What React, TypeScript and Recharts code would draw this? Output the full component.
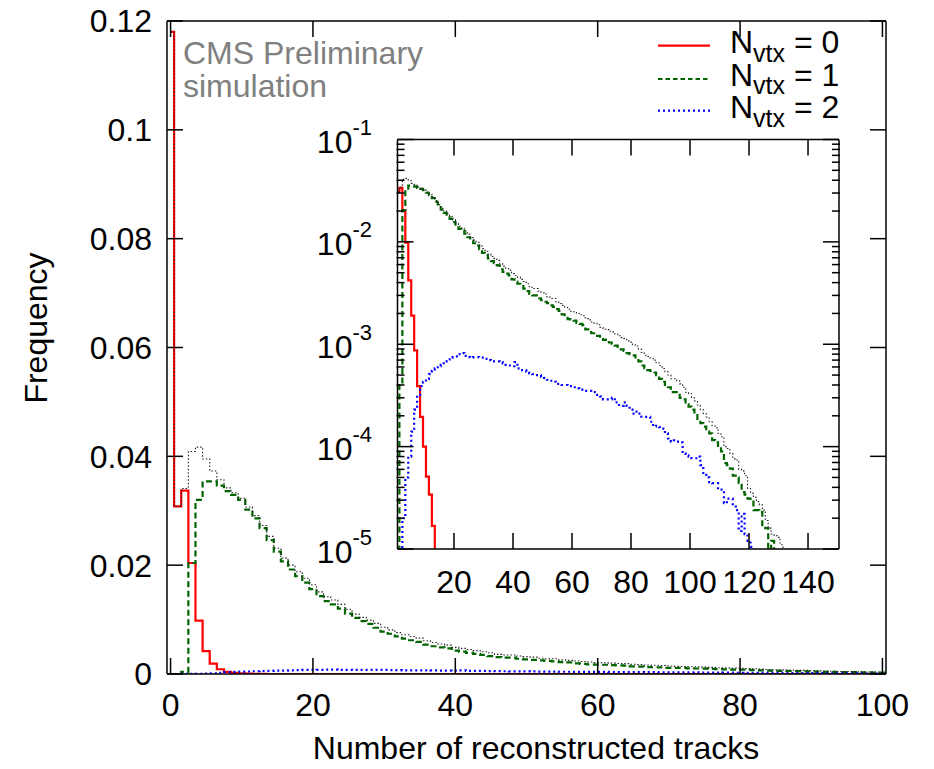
import { Line, LineChart, XAxis, YAxis } from "recharts";

/* Track-multiplicity histograms per number of reconstructed vertices, with a
   log-scale inset of the same distributions. Bins are centred on integers. */

const FONT = "'Liberation Sans', Arial, Helvetica, sans-serif";

const BINS = Array.from({ length: 151 }, (_, i) => i); // tracks 0..150

// N_vtx = 0
const N0 = [0.118, 0.0308, 0.0337, 0.0204, 0.0098, 0.0042, 0.0019, 0.00087, 0.00039, 0.000195, 0.0001, 0.000051, 0.000034, 0.0000168];

// N_vtx = 1
const N1 = [
  0, 0, 0.0004, 0.0204, 0.032, 0.0354, 0.0354, 0.0346, 0.0336, 0.0329,
  0.032, 0.0302, 0.0286, 0.0268, 0.0246, 0.0225, 0.0207, 0.0192, 0.018, 0.0168,
  0.0156, 0.0143, 0.0134, 0.0128, 0.012, 0.0111, 0.0103, 0.0097, 0.0092, 0.0085,
  0.0078, 0.0074, 0.0069, 0.0065, 0.0062, 0.0059, 0.0054, 0.0051, 0.0049, 0.0047,
  0.0043, 0.0041, 0.0039, 0.0037, 0.0035, 0.0033, 0.0031, 0.003, 0.003, 0.0028,
  0.0027, 0.0026, 0.00252, 0.0024, 0.00232, 0.0022, 0.00212, 0.00196, 0.00186, 0.00176,
  0.00174, 0.0017, 0.00162, 0.00158, 0.00154, 0.0014, 0.00136, 0.00128, 0.00124, 0.00121,
  0.00112, 0.0011, 0.00111, 0.00104, 0.00101, 0.00097, 0.00094, 0.00089, 0.00086, 0.00082,
  0.0008, 0.00078, 0.00072, 0.00068, 0.00062, 0.00058, 0.00056, 0.00055, 0.00053, 0.0005,
  0.00046, 0.00043, 0.0004, 0.00038, 0.00034, 0.00034, 0.00033, 0.0003, 0.00029, 0.00026,
  0.000246, 0.00023, 0.00021, 0.000175, 0.00017, 0.000157, 0.00014, 0.000135, 0.000116, 0.00011,
  0.000096, 0.00009, 0.000069, 0.000066, 0.000061, 0.000052, 0.00005, 0.000044, 0.000036, 0.000034,
  0.000031, 0.00003, 0.000024, 0.000024, 0.000023, 0.0000166, 0.000016, 0, 0.000012, 0,
];

// N_vtx = 2
const N2 = [
  0, 0, 0.000008, 0.00002, 0.00005, 0.00008, 0.00014, 0.00023, 0.00032, 0.00039,
  0.00043, 0.00046, 0.00051, 0.00055, 0.00058, 0.00061, 0.00063, 0.00068, 0.00071, 0.00074,
  0.00075, 0.00076, 0.0008, 0.00082, 0.00077, 0.00075, 0.00074, 0.00075, 0.00075, 0.00074,
  0.00074, 0.00072, 0.0007, 0.00068, 0.00068, 0.00068, 0.00067, 0.00065, 0.00063, 0.00062,
  0.00061, 0.00067, 0.00058, 0.00056, 0.00056, 0.00054, 0.00052, 0.00051, 0.0005, 0.0005,
  0.00048, 0.00047, 0.00045, 0.00044, 0.00043, 0.00041, 0.00041, 0.0004, 0.0004, 0.00039,
  0.00039, 0.00038, 0.00037, 0.00036, 0.00035, 0.00035, 0.00035, 0.00034, 0.00034, 0.00032,
  0.00031, 0.00029, 0.00029, 0.00029, 0.0003, 0.00027, 0.000255, 0.00025, 0.00027, 0.00025,
  0.00023, 0.00021, 0.00022, 0.00021, 0.000196, 0.000195, 0.000195, 0.000175, 0.000158, 0.00016,
  0.000155, 0.00015, 0.000135, 0.00012, 0.000112, 0.000115, 0.000112, 0.00011, 0.000086, 0.000082,
  0.00008, 0.000077, 0.000077, 0.00008, 0.000066, 0.000053, 0.00005, 0.000045, 0.000044, 0.000044,
  0.000038, 0.000038, 0.000028, 0.000031, 0.000031, 0.000026, 0.000024, 0.000015, 0.000022, 0.000014,
  0.000012, 0.0000105,
];

// all events (black dotted, not in the legend)
const ALL = [
  0.118, 0.0308, 0.0341, 0.0409, 0.0417, 0.0395, 0.0373, 0.0357, 0.0342, 0.0333,
  0.0323, 0.0307, 0.0291, 0.0273, 0.0253, 0.0231, 0.0213, 0.02, 0.0188, 0.0176,
  0.0164, 0.0151, 0.0142, 0.0136, 0.0128, 0.0119, 0.011, 0.0104, 0.0099, 0.0093,
  0.0086, 0.0081, 0.0076, 0.0072, 0.0069, 0.0066, 0.0061, 0.0058, 0.0055, 0.0053,
  0.0049, 0.0047, 0.0045, 0.0043, 0.0041, 0.0039, 0.0036, 0.0035, 0.0035, 0.0033,
  0.0032, 0.0031, 0.0029, 0.0028, 0.0028, 0.0026, 0.0025, 0.0024, 0.0023, 0.0022,
  0.0021, 0.00208, 0.002, 0.00194, 0.0019, 0.00178, 0.00173, 0.00165, 0.0016, 0.00155,
  0.00146, 0.0014, 0.00139, 0.00134, 0.00132, 0.00126, 0.00121, 0.00116, 0.00114, 0.00108,
  0.00105, 0.00099, 0.00096, 0.0009, 0.00083, 0.00078, 0.00076, 0.00073, 0.0007, 0.00066,
  0.00062, 0.00058, 0.00054, 0.0005, 0.00046, 0.00046, 0.00044, 0.00041, 0.00038, 0.00034,
  0.00033, 0.0003, 0.00028, 0.000255, 0.00023, 0.00021, 0.000195, 0.000175, 0.00016, 0.000153,
  0.000135, 0.000125, 0.0001, 0.000096, 0.000086, 0.000076, 0.000074, 0.00006, 0.000058, 0.000052,
  0.000039, 0.000035, 0.000032, 0.000029, 0.000027, 0.000024, 0.000019, 0.000016, 0.000014, 0.0000135,
  0.000013, 0.000011,
];

const X_TICKS = [0, 20, 40, 60, 80, 100];
const Y_TICKS = [0, 0.02, 0.04, 0.06, 0.08, 0.1, 0.12];
const INSET_X_TICKS = [20, 40, 60, 80, 100, 120, 140];
const INSET_Y_TICKS = [1e-5, 1e-4, 1e-3, 1e-2, 1e-1];
const INSET_MINOR = [1e-5, 1e-4, 1e-3, 1e-2].flatMap((d) => [2, 3, 4, 5, 6, 7, 8, 9].map((m) => m * d));

const LEGEND = ["0", "1", "2"];

const RED = "#ff0000";
const GREEN = "#006400";
const BLUE = "#0000ff";

const FLOOR = 1e-9; // empty bins drop off the bottom of the log inset

const mainRows = BINS.map((k) => ({ k, n0: N0[k] ?? 0, n1: N1[k] ?? 0, n2: N2[k] ?? 0, all: ALL[k] ?? 0 }));
const lv = (v?: number) => (v && v > 0 ? v : FLOOR);
const insetRows = BINS.filter((k) => k >= 1).map((k) => ({ k, n0: lv(N0[k]), n1: lv(N1[k]), n2: lv(N2[k]), all: lv(ALL[k]) }));

const axisStyle = { stroke: "#000", strokeWidth: 1.5 };
const blank = () => "";

function PowTick({ x, y, payload }: any) {
  const e = Math.round(Math.log10(payload.value));
  return (
    <text x={x} y={y + 13.5} textAnchor="end" fontSize={32} fill="#000" fontFamily={FONT}>
      10
      <tspan fontSize={22} dy={-18}>{e}</tspan>
    </text>
  );
}

function series(xId: string, yId: string) {
  return [
    <Line key="n0" xAxisId={xId} yAxisId={yId} type="step" dataKey="n0" stroke={RED} strokeWidth={2.2} dot={false} activeDot={false} isAnimationActive={false} />,
    <Line key="n1" xAxisId={xId} yAxisId={yId} type="step" dataKey="n1" stroke={GREEN} strokeWidth={2.2} strokeDasharray="6 3.5" dot={false} activeDot={false} isAnimationActive={false} />,
    <Line key="n2" xAxisId={xId} yAxisId={yId} type="step" dataKey="n2" stroke={BLUE} strokeWidth={2.2} strokeDasharray="2 3" dot={false} activeDot={false} isAnimationActive={false} />,
    <Line key="all" xAxisId={xId} yAxisId={yId} type="step" dataKey="all" stroke="#222" strokeWidth={1.1} strokeDasharray="1.5 2" dot={false} activeDot={false} isAnimationActive={false} />,
  ];
}

export default function App() {
  return (
    <div style={{ position: "absolute", left: 0, top: 0, width: 934, height: 769, background: "#fff", fontFamily: FONT }}>
      <div style={{ position: "absolute", left: 0, top: 0 }}>
        {/* axes are 1px wide/high, so the margins set the frame: 167..886 x 21..674 */}
        <LineChart width={934} height={769} data={mainRows} margin={{ top: 20, right: 47, bottom: 94, left: 166 }}>
          <XAxis xAxisId="x" dataKey="k" type="number" domain={[-0.5, 100.5]} allowDataOverflow ticks={X_TICKS} interval={0}
            height={1} tickSize={-16} tickMargin={35} axisLine={axisStyle} tickLine={axisStyle} tick={{ fill: "#000", fontSize: 32 }} />
          <XAxis xAxisId="xt" orientation="top" dataKey="k" type="number" domain={[-0.5, 100.5]} allowDataOverflow ticks={X_TICKS} interval={0}
            height={1} tickSize={-16} tickFormatter={blank} axisLine={axisStyle} tickLine={axisStyle} />
          <YAxis yAxisId="y" type="number" domain={[0, 0.12]} allowDataOverflow ticks={Y_TICKS} interval={0}
            width={1} tickSize={-16} tickMargin={31} axisLine={axisStyle} tickLine={axisStyle} tick={{ fill: "#000", fontSize: 32 }} />
          <YAxis yAxisId="yr" orientation="right" type="number" domain={[0, 0.12]} allowDataOverflow ticks={Y_TICKS} interval={0}
            width={1} tickSize={-16} tickFormatter={blank} axisLine={axisStyle} tickLine={axisStyle} />
          {series("x", "y")}
        </LineChart>
      </div>

      <div style={{ position: "absolute", left: 280, top: 100 }}>
        {/* frame 397.5..839 x 139.5..549 */}
        <LineChart width={600} height={520} data={insetRows} margin={{ top: 38.5, right: 39, bottom: 70, left: 115.5 }}>
          <XAxis xAxisId="x" dataKey="k" type="number" domain={[0.85, 150.5]} allowDataOverflow ticks={INSET_X_TICKS} interval={0}
            height={1} tickSize={-16} tickMargin={37} axisLine={axisStyle} tickLine={axisStyle} tick={{ fill: "#000", fontSize: 32 }} />
          <XAxis xAxisId="xt" orientation="top" dataKey="k" type="number" domain={[0.85, 150.5]} allowDataOverflow ticks={INSET_X_TICKS} interval={0}
            height={1} tickSize={-16} tickFormatter={blank} axisLine={axisStyle} tickLine={axisStyle} />
          <YAxis yAxisId="y" type="number" scale="log" domain={[1e-5, 1e-1]} allowDataOverflow ticks={INSET_Y_TICKS} interval={0}
            width={1} tickSize={-16} tickMargin={41.5} axisLine={axisStyle} tickLine={axisStyle} tick={<PowTick />} />
          <YAxis yAxisId="ym" type="number" scale="log" domain={[1e-5, 1e-1]} allowDataOverflow ticks={INSET_MINOR} interval={0}
            width={1} tickSize={-8} tickFormatter={blank} axisLine={false} tickLine={axisStyle} />
          <YAxis yAxisId="yr" orientation="right" type="number" scale="log" domain={[1e-5, 1e-1]} allowDataOverflow ticks={INSET_Y_TICKS} interval={0}
            width={1} tickSize={-16} tickFormatter={blank} axisLine={axisStyle} tickLine={axisStyle} />
          <YAxis yAxisId="yrm" orientation="right" type="number" scale="log" domain={[1e-5, 1e-1]} allowDataOverflow ticks={INSET_MINOR} interval={0}
            width={1} tickSize={-8} tickFormatter={blank} axisLine={false} tickLine={axisStyle} />
          {series("x", "y")}
        </LineChart>
      </div>

      <svg width={934} height={769} style={{ position: "absolute", left: 0, top: 0, pointerEvents: "none" }} fontFamily={FONT}>
        <text x={183} y={64} fontSize={32} fill="#808080">CMS Preliminary</text>
        <text x={183} y={97} fontSize={32} fill="#808080">simulation</text>

        <line x1={658} x2={710} y1={45.7} y2={45.7} stroke={RED} strokeWidth={2.2} />
        <line x1={658} x2={710} y1={79} y2={79} stroke={GREEN} strokeWidth={2.2} strokeDasharray="4.5 3" />
        <line x1={658} x2={710} y1={110.7} y2={110.7} stroke={BLUE} strokeWidth={2.2} strokeDasharray="2 3" />
        {LEGEND.map((n, i) => (
          <text key={n} x={730} y={53 + i * 32.5} fontSize={32} fill="#000">
            N<tspan fontSize={25} dy={8.7}>vtx</tspan>
            <tspan dy={-8.7}>{` = ${n}`}</tspan>
          </text>
        ))}

        <text x={536} y={759} fontSize={32} textAnchor="middle" fill="#000">Number of reconstructed tracks</text>
        <text transform="translate(47,328) rotate(-90)" fontSize={32} textAnchor="middle" fill="#000">Frequency</text>
      </svg>
    </div>
  );
}
